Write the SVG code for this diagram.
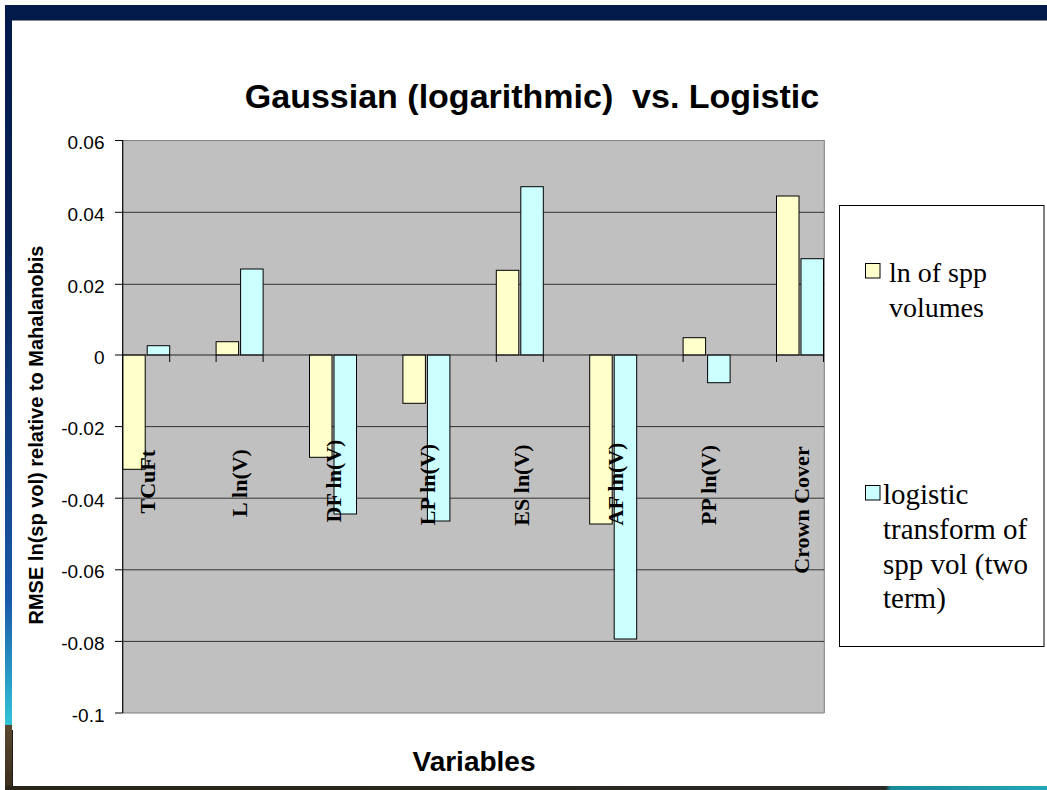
<svg xmlns="http://www.w3.org/2000/svg" width="1047" height="790" viewBox="0 0 1047 790">
<style>
.tick{font-family:"Liberation Sans",Arial,sans-serif;font-size:19px;fill:#000;text-anchor:end}
.cat{font-family:"Liberation Serif","Times New Roman",serif;font-size:22px;font-weight:bold;fill:#000;text-anchor:middle}
.leg{font-family:"Liberation Serif","Times New Roman",serif;font-size:28px;fill:#000}
.leg2{font-family:"Liberation Serif","Times New Roman",serif;font-size:29px;fill:#000}
.grid{stroke:#333;stroke-width:1}
.y{fill:#FFFFCC;stroke:#000;stroke-width:1}
.b{fill:#CCFFFF;stroke:#000;stroke-width:1}
.tk{stroke:#000;stroke-width:1}
</style>
<defs>
<linearGradient id="lg" x1="0" y1="0" x2="0" y2="1">
<stop offset="0" stop-color="#011a4a"/>
<stop offset="0.29" stop-color="#0a2256"/>
<stop offset="0.76" stop-color="#1a58a8"/>
<stop offset="0.92" stop-color="#32c4d8"/>
<stop offset="0.921" stop-color="#5c4a30"/>
<stop offset="1" stop-color="#3a2e1e"/>
</linearGradient>
<linearGradient id="bg" x1="0" y1="0" x2="1" y2="0">
<stop offset="0" stop-color="#2a2418"/>
<stop offset="0.845" stop-color="#2a2a26"/>
<stop offset="0.85" stop-color="#188a9a"/>
<stop offset="1" stop-color="#22a6b6"/>
</linearGradient>
</defs>
<rect x="0" y="0" width="1047" height="790" fill="#fff"/>
<g id="frame">
<rect x="5" y="5" width="1042" height="15" fill="#011a4a"/>
<line x1="12" y1="20.5" x2="1047" y2="20.5" stroke="#8a8a8a"/>
<rect x="5" y="5" width="7" height="782" fill="url(#lg)"/>
<line x1="12.5" y1="730" x2="12.5" y2="787" stroke="#1a1a1a"/>
<rect x="5" y="786" width="1042" height="4" fill="url(#bg)"/>
</g>
<g id="title">
<text x="532" y="108" style="font-family:'Liberation Sans',Arial,sans-serif;font-size:34px;font-weight:bold;white-space:pre" text-anchor="middle">Gaussian (logarithmic)  vs. Logistic</text>
</g>
<g id="plot">
<rect x="122.7" y="140" width="701.6" height="573" fill="#C0C0C0"/>
<line x1="122.7" y1="140.5" x2="824.3" y2="140.5" stroke="#808080"/>
<line x1="824.3" y1="140" x2="824.3" y2="713" stroke="#808080"/>
<line x1="122.7" y1="713" x2="824.3" y2="713" stroke="#808080"/>
<line class="grid" x1="122.7" y1="212.3" x2="824.3" y2="212.3"/>
<line class="grid" x1="122.7" y1="284.3" x2="824.3" y2="284.3"/>
<line class="grid" x1="122.7" y1="426.6" x2="824.3" y2="426.6"/>
<line class="grid" x1="122.7" y1="498.2" x2="824.3" y2="498.2"/>
<line class="grid" x1="122.7" y1="569.8" x2="824.3" y2="569.8"/>
<line class="grid" x1="122.7" y1="641.4" x2="824.3" y2="641.4"/>
</g>
<g id="bars">
<rect class="y" x="122.7" y="355" width="22.5" height="114.3"/>
<rect class="b" x="147.2" y="345.7" width="22.5" height="9.3"/>
<rect class="y" x="216.1" y="341.7" width="22.5" height="13.3"/>
<rect class="b" x="240.6" y="269" width="22.5" height="86"/>
<rect class="y" x="309.5" y="355" width="22.5" height="102.3"/>
<rect class="b" x="334" y="355" width="22.5" height="159"/>
<rect class="y" x="402.9" y="355" width="22.5" height="48.3"/>
<rect class="b" x="427.4" y="355" width="22.5" height="166"/>
<rect class="y" x="496.3" y="270.3" width="22.5" height="84.7"/>
<rect class="b" x="520.8" y="186.7" width="22.5" height="168.3"/>
<rect class="y" x="589.7" y="355" width="22.5" height="169"/>
<rect class="b" x="614.2" y="355" width="22.5" height="284"/>
<rect class="y" x="683.1" y="337.7" width="22.5" height="17.3"/>
<rect class="b" x="707.6" y="355" width="22.5" height="27.7"/>
<rect class="y" x="776.5" y="196" width="22.5" height="159"/>
<rect class="b" x="801" y="258.7" width="22.5" height="96.3"/>
</g>
<g id="axes">
<line x1="122.7" y1="355" x2="824.3" y2="355" stroke="#222" stroke-width="1"/>
<line x1="122.7" y1="140" x2="122.7" y2="713" stroke="#000" stroke-width="1.2"/>
<line class="tk" x1="115" y1="140.5" x2="122.7" y2="140.5"/>
<line class="tk" x1="115" y1="212.3" x2="122.7" y2="212.3"/>
<line class="tk" x1="115" y1="284.3" x2="122.7" y2="284.3"/>
<line class="tk" x1="115" y1="355" x2="122.7" y2="355"/>
<line class="tk" x1="115" y1="426.6" x2="122.7" y2="426.6"/>
<line class="tk" x1="115" y1="498.2" x2="122.7" y2="498.2"/>
<line class="tk" x1="115" y1="569.8" x2="122.7" y2="569.8"/>
<line class="tk" x1="115" y1="641.4" x2="122.7" y2="641.4"/>
<line class="tk" x1="115" y1="713" x2="122.7" y2="713"/>
<line class="tk" x1="169.7" y1="355" x2="169.7" y2="362"/>
<line class="tk" x1="216.1" y1="355" x2="216.1" y2="362"/>
<line class="tk" x1="263.1" y1="355" x2="263.1" y2="362"/>
<line class="tk" x1="496.3" y1="355" x2="496.3" y2="362"/>
<line class="tk" x1="543.3" y1="355" x2="543.3" y2="362"/>
<line class="tk" x1="683.1" y1="355" x2="683.1" y2="362"/>
<line class="tk" x1="776.5" y1="355" x2="776.5" y2="362"/>
<line class="tk" x1="823.5" y1="355" x2="823.5" y2="362"/>
<text class="tick" x="104.5" y="148.5">0.06</text>
<text class="tick" x="104.5" y="220.8">0.04</text>
<text class="tick" x="104.5" y="292.8">0.02</text>
<text class="tick" x="104.5" y="363.5">0</text>
<text class="tick" x="104.5" y="435.1">-0.02</text>
<text class="tick" x="104.5" y="506.7">-0.04</text>
<text class="tick" x="104.5" y="578.3">-0.06</text>
<text class="tick" x="104.5" y="649.9">-0.08</text>
<text class="tick" x="104.5" y="721.5">-0.1</text>
<text transform="translate(43,435) rotate(-90)" style="font-family:'Liberation Sans',Arial,sans-serif;font-size:20px;font-weight:bold" text-anchor="middle">RMSE ln(sp vol) relative to Mahalanobis</text>
<text x="474" y="771" style="font-family:'Liberation Sans',Arial,sans-serif;font-size:28px;font-weight:bold" text-anchor="middle">Variables</text>
</g>
<g id="categories">
<text class="cat" transform="translate(155,481.7) rotate(-90)">TCuFt</text>
<text class="cat" transform="translate(247,483) rotate(-90)">L ln(V)</text>
<text class="cat" transform="translate(341,481) rotate(-90)">DF ln(V)</text>
<text class="cat" transform="translate(435,484.5) rotate(-90)">LP ln(V)</text>
<text class="cat" transform="translate(529,485) rotate(-90)">ES ln(V)</text>
<text class="cat" transform="translate(622.5,484) rotate(-90)">AF ln(V)</text>
<text class="cat" transform="translate(716,485) rotate(-90)">PP ln(V)</text>
<text class="cat" transform="translate(809,510) rotate(-90)">Crown Cover</text>
</g>
<g id="legend">
<rect x="839.5" y="205.5" width="204.5" height="441" fill="#fff" stroke="#000" stroke-width="1"/>
<rect class="y" x="865.5" y="263.5" width="14.5" height="14.5"/>
<text class="leg" x="889" y="282">ln of spp</text>
<text class="leg" x="889" y="317">volumes</text>
<rect class="b" x="865.5" y="485.5" width="14.5" height="14.5"/>
<text class="leg2" x="883" y="504">logistic</text>
<text class="leg2" x="883" y="539">transform of</text>
<text class="leg2" x="883" y="573.5">spp vol (two</text>
<text class="leg2" x="883" y="608">term)</text>
</g>
</svg>
